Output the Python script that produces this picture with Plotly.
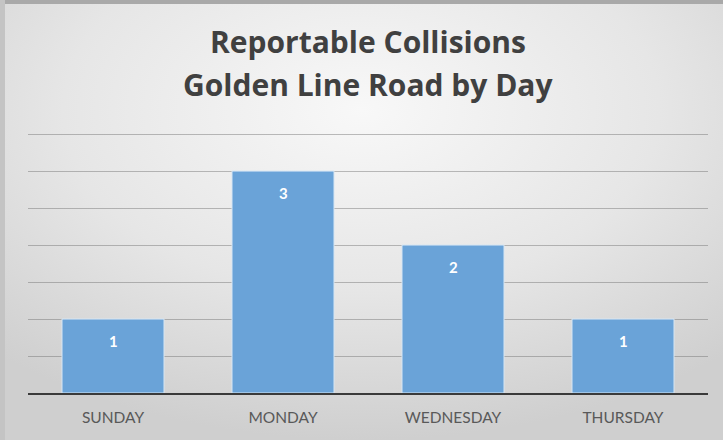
import base64
import plotly.graph_objects as go

days = ["SUNDAY", "MONDAY", "WEDNESDAY", "THURSDAY"]
collisions = [1, 3, 2, 1]
title_lines = ["Reportable Collisions", "Golden Line Road by Day"]

svg = """<svg xmlns='http://www.w3.org/2000/svg' width='723' height='440' viewBox='0 0 723 440' preserveAspectRatio='none'>
<defs><radialGradient id='g' cx='0.5' cy='0.25' r='0.75' gradientUnits='objectBoundingBox'>
<stop offset='0' stop-color='#f8f8f8'/><stop offset='0.55' stop-color='#e6e6e6'/><stop offset='1' stop-color='#cfcfcf'/></radialGradient></defs>
<rect width='723' height='440' fill='url(#g)'/>
<rect x='0' y='0' width='723' height='4' fill='#a9a9a9'/>
<rect x='0' y='0' width='5' height='440' fill='#c4c4c4'/>
</svg>"""
src = "data:image/svg+xml;base64," + base64.b64encode(svg.encode()).decode()

TOP, BOT, L, R = 133, 393, 28, 708
PH, PW = BOT - TOP, R - L
def py(p):
    return (BOT - p) / PH

fig = go.Figure(go.Bar(
    x=days, y=collisions, width=0.6,
    marker=dict(color="#6aa3d8", line=dict(color="#d6e6f4", width=1)),
    hoverinfo="x+y",
))

annos = [dict(x=d, y=v, xref="x", yref="y", text=str(v), showarrow=False,
              yanchor="middle", yshift=-21.5,
              font=dict(family="Lato, Open Sans, sans-serif", size=15, color="white", weight="bold"))
         for d, v in zip(days, collisions)]
for txt, p in zip(title_lines, [42, 84]):
    annos.append(dict(x=0.5, y=py(p), xref="paper", yref="paper", text=txt, showarrow=False,
                      xanchor="center", yanchor="middle",
                      font=dict(family="Open Sans, sans-serif", size=30, color="#404040", weight="bold")))

fig.update_layout(
    width=723, height=440,
    margin=dict(l=L, r=723 - R, t=TOP, b=440 - BOT),
    paper_bgcolor="rgba(0,0,0,0)", plot_bgcolor="rgba(0,0,0,0)",
    images=[dict(source=src, xref="paper", yref="paper", x=-L / PW, y=1 + TOP / PH,
                 sizex=723 / PW, sizey=440 / PH, sizing="stretch", layer="below",
                 xanchor="left", yanchor="top")],
    annotations=annos,
    showlegend=False,
    xaxis=dict(showgrid=False, showline=True, linecolor="#3a3a3a", linewidth=2,
               tickfont=dict(family="Lato, Open Sans, sans-serif", size=15.5, color="#595959"),
               ticks="outside", ticklen=9, tickcolor="rgba(0,0,0,0)", fixedrange=True),
    yaxis=dict(range=[0, 3.515], tickvals=[0.5, 1, 1.5, 2, 2.5, 3, 3.5], showticklabels=False,
               showgrid=True, gridcolor="rgba(110,110,110,0.45)", gridwidth=1, zeroline=False,
               ticks="", fixedrange=True),
)

fig.write_html("out.html")
